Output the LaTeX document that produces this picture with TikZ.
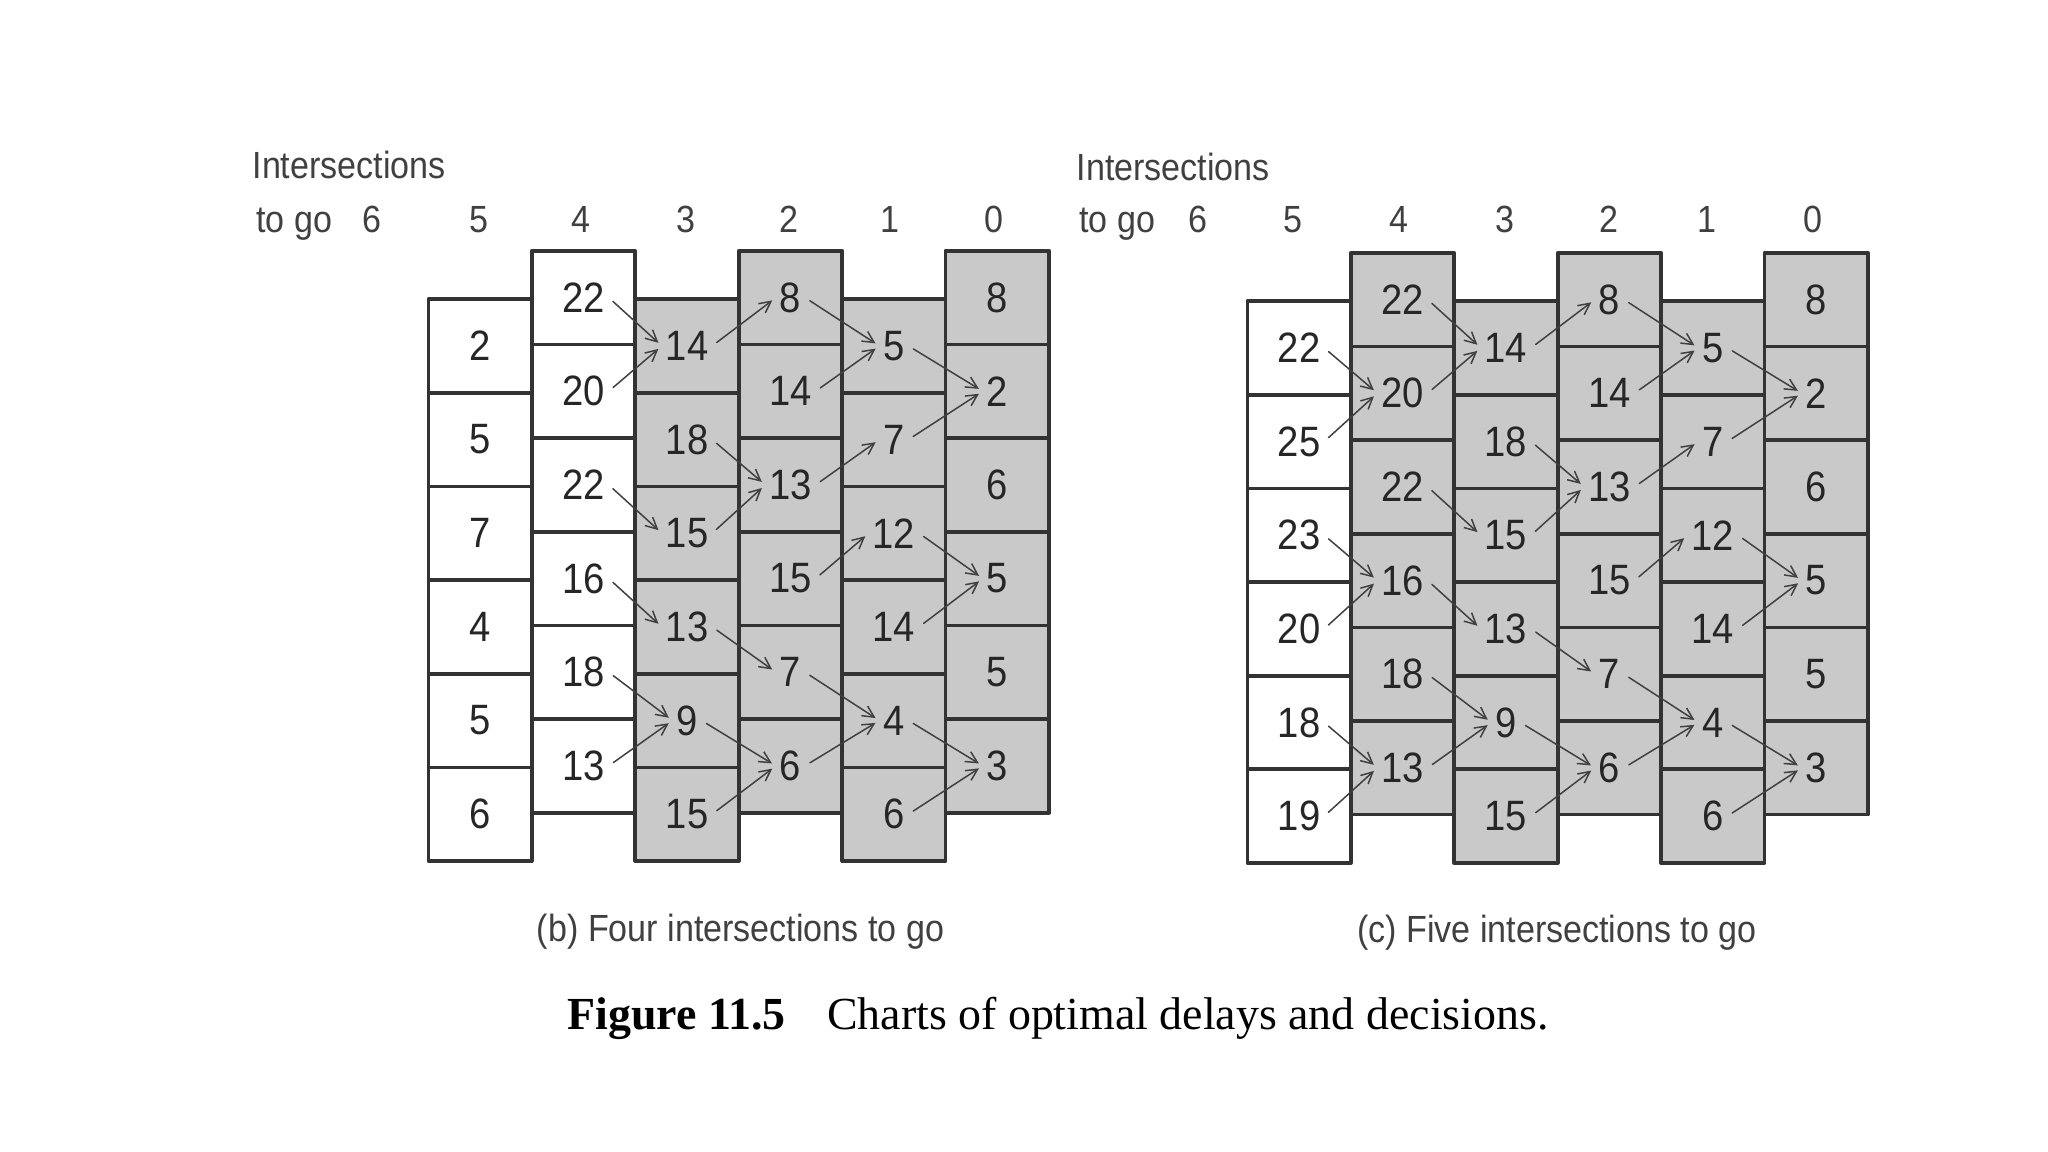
\documentclass[tikz,border=0pt]{standalone}
\usepackage{fontspec}
\usetikzlibrary{arrows.meta,calc}

\newfontfamily\chartfont[FakeStretch=0.9]{Liberation Sans}
\newfontfamily\capfont{Liberation Serif}

% one column of cells: name, left x, top y, fill style, values
\newcommand\chartcolumn[5]{%
  \foreach \v [count=\i] in {#5} {
    \draw[#4] (#2,{#3+(\i-1)*\ch}) rectangle ++(\cw,\ch);
    \node[num] (#1r\i) at ({#2+\cw/2},{#3+(\i-0.5)*\ch}) {\v};
  }}

\begin{document}
\begin{tikzpicture}[
    x=0.02cm, y=-0.02cm,
    line cap=round,
    line join=round,
    cell/.style={draw=black!80, line width=1.6pt, fill=white},
    shade/.style={draw=black!80, line width=1.6pt, fill=black!21},
    num/.style={font=\chartfont\fontsize{18.5}{18}\selectfont, text=black!85, inner sep=1.5pt},
    head/.style={font=\chartfont\fontsize{16.5}{18}\selectfont, text=black!75, inner sep=0pt},
    hop/.style={-{Straight Barb[length=5pt,width=5pt]}, black!75, line width=0.65pt,
                shorten <=2.5pt, shorten >=2pt}
]

\useasboundingbox (0,0) rectangle (1568,882);

% -----------------------
% Parameters
% -----------------------
\def\cw{79.2}
\def\ch{71.7}

% -----------------------
% Chart (b)
% -----------------------
\node[head, anchor=base west] (bint) at (193,137) {Intersections};
\node[head, anchor=base west] (btogo) at (196,178) {to go};
\node[head, anchor=base] (bh6) at (285,178) {6};
\node[head, anchor=base] (bh5) at (367,178) {5};
\node[head, anchor=base] (bh4) at (445,178) {4};
\node[head, anchor=base] (bh3) at (525,178) {3};
\node[head, anchor=base] (bh2) at (604,178) {2};
\node[head, anchor=base] (bh1) at (681,178) {1};
\node[head, anchor=base] (bh0) at (761,178) {0};

\chartcolumn{b5}{328}{229}{cell}{2,5,7,4,5,6}
\chartcolumn{b4}{407.2}{192}{cell}{22,20,22,16,18,13}
\chartcolumn{b3}{486.4}{229}{shade}{14,18,15,13,9,15}
\chartcolumn{b2}{565.6}{192}{shade}{8,14,13,15,7,6}
\chartcolumn{b1}{644.8}{229}{shade}{5,7,12,14,4,6}
\chartcolumn{b0}{724}{192}{shade}{8,2,6,5,5,3}

\node[head] (bcap) at (567,713) {(b) Four intersections to go};

% -----------------------
% Chart (c)
% -----------------------
\node[head, anchor=base west] (cint) at (824,138) {Intersections};
\node[head, anchor=base west] (ctogo) at (826,178) {to go};
\node[head, anchor=base] (ch6) at (917,178) {6};
\node[head, anchor=base] (ch5) at (990,178) {5};
\node[head, anchor=base] (ch4) at (1071,178) {4};
\node[head, anchor=base] (ch3) at (1152,178) {3};
\node[head, anchor=base] (ch2) at (1232,178) {2};
\node[head, anchor=base] (ch1) at (1307,178) {1};
\node[head, anchor=base] (ch0) at (1388,178) {0};

\chartcolumn{c5}{955}{230.5}{cell}{22,25,23,20,18,19}
\chartcolumn{c4}{1034.2}{193.5}{shade}{22,20,22,16,18,13}
\chartcolumn{c3}{1113.4}{230.5}{shade}{14,18,15,13,9,15}
\chartcolumn{c2}{1192.6}{193.5}{shade}{8,14,13,15,7,6}
\chartcolumn{c1}{1271.8}{230.5}{shade}{5,7,12,14,4,6}
\chartcolumn{c0}{1351}{193.5}{shade}{8,2,6,5,5,3}

\node[head] (ccap) at (1192,714) {(c) Five intersections to go};

% -----------------------
% Decisions
% -----------------------
\foreach \c in {b,c} {
  \foreach \a/\b in {4r1/3r1, 4r2/3r1, 4r3/3r3, 4r4/3r4, 4r5/3r5, 4r6/3r5,
                     3r1/2r1, 3r2/2r3, 3r3/2r3, 3r4/2r5, 3r5/2r6, 3r6/2r6,
                     2r1/1r1, 2r2/1r1, 2r3/1r2, 2r4/1r3, 2r5/1r5, 2r6/1r5,
                     1r1/0r2, 1r2/0r2, 1r3/0r4, 1r4/0r4, 1r5/0r6, 1r6/0r6}
    \draw[hop] (\c\a.east) -- (\c\b.west);
}
\foreach \a/\b in {5r1/4r2, 5r2/4r2, 5r3/4r4, 5r4/4r4, 5r5/4r6, 5r6/4r6}
  \draw[hop] (c\a.east) -- (c\b.west);

% -----------------------
% Caption
% -----------------------
\node[font=\capfont\fontsize{20}{22}\selectfont] (fig) at (810,780)
  {\textbf{Figure 11.5}\hspace{0.9em}Charts of optimal delays and decisions.};

\end{tikzpicture}
\end{document}
